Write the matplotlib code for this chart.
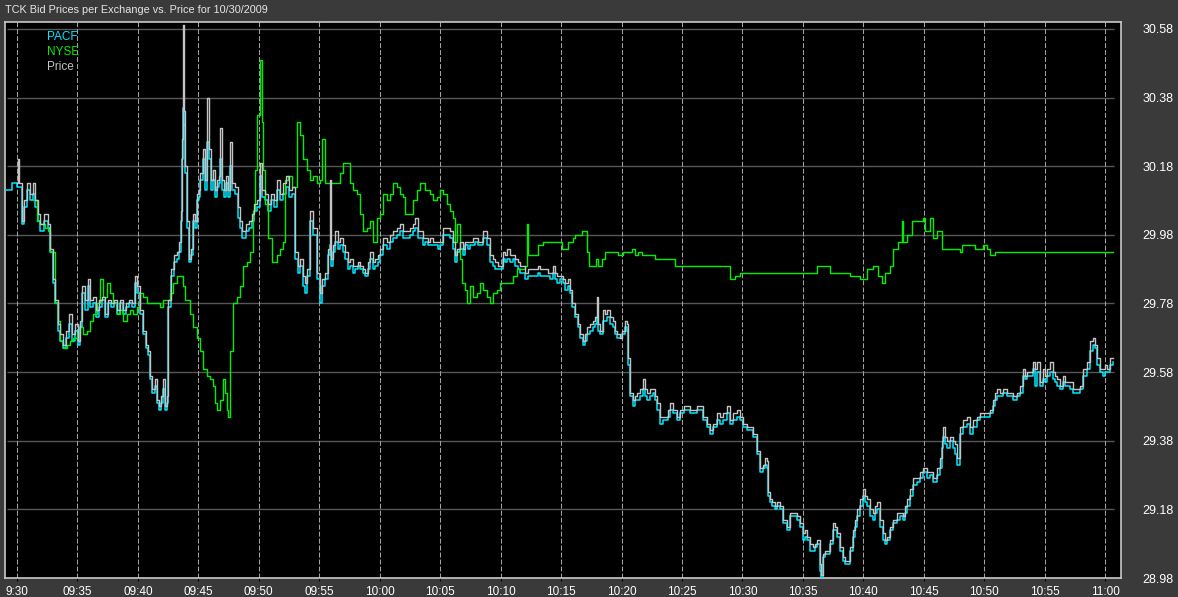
import matplotlib
matplotlib.use("Agg")
import matplotlib.pyplot as plt

# ---- data: minutes after 09:30 and prices ----
price_t = [0.00, 0.08, 0.17, 0.41, 0.58, 0.83, 1.08, 1.32, 1.49, 1.74, 1.90, 2.23, 2.56, 2.73, 2.98, 3.14, 3.39, 3.56, 3.80, 4.05,
           4.30, 4.55, 4.80, 5.05, 5.21, 5.38, 5.62, 5.87, 6.04, 6.29, 6.53, 6.78, 7.03, 7.28, 7.53, 7.77, 8.02, 8.27, 8.52, 8.77,
           9.02, 9.26, 9.51, 9.76, 9.93, 10.17, 10.42, 10.67, 10.83, 11.00, 11.17, 11.41, 11.58, 11.74, 11.91, 12.08, 12.24, 12.41, 12.49, 12.74,
           12.99, 13.23, 13.40, 13.56, 13.65, 13.73, 13.81, 13.89, 14.06, 14.23, 14.39, 14.56, 14.72, 14.89, 15.05, 15.14, 15.38, 15.55, 15.72, 15.88,
           16.05, 16.21, 16.38, 16.55, 16.71, 16.79, 16.96, 17.12, 17.29, 17.45, 17.62, 17.79, 18.03, 18.28, 18.45, 18.61, 18.78, 18.94, 19.19, 19.44,
           19.60, 19.85, 20.10, 20.26, 20.51, 20.76, 21.01, 21.26, 21.51, 21.75, 22.00, 22.25, 22.50, 22.75, 22.99, 23.24, 23.41, 23.66, 23.82, 23.99,
           24.24, 24.48, 24.81, 25.06, 25.23, 25.48, 25.72, 25.89, 25.97, 26.14, 26.30, 26.55, 26.72, 26.96, 27.13, 27.38, 27.55, 27.79, 27.96, 28.21,
           28.37, 28.62, 28.79, 29.03, 29.20, 29.45, 29.61, 29.86, 30.02, 30.27, 30.60, 30.85, 31.10, 31.43, 31.68, 31.93, 32.26, 32.51, 32.75, 32.92,
           33.17, 33.33, 33.58, 33.75, 34.00, 34.16, 34.41, 34.57, 34.82, 34.99, 35.24, 35.57, 35.82, 36.06, 36.23, 36.40, 36.64, 36.89, 37.06, 37.30,
           37.47, 37.72, 37.88, 38.13, 38.30, 38.55, 38.88, 39.12, 39.37, 39.54, 39.79, 39.95, 40.20, 40.36, 40.53, 40.78, 41.03, 41.19, 41.44, 41.61,
           41.85, 42.02, 42.27, 42.43, 42.68, 42.85, 43.09, 43.26, 43.51, 43.67, 43.92, 44.09, 44.34, 44.50, 44.67, 44.91, 45.16, 45.33, 45.57, 45.74,
           45.91, 46.15, 46.40, 46.57, 46.82, 46.98, 47.15, 47.40, 47.64, 47.81, 47.97, 48.06, 48.22, 48.47, 48.64, 48.80, 49.05, 49.30, 49.46, 49.63,
           49.88, 50.04, 50.29, 50.46, 50.54, 50.70, 50.95, 51.12, 51.28, 51.53, 51.78, 51.94, 52.11, 52.36, 52.60, 52.77, 52.94, 53.18, 53.43, 53.60,
           53.85, 54.01, 54.26, 54.59, 54.84, 55.17, 55.66, 56.24, 56.49, 56.74, 57.07, 57.32, 57.57, 57.90, 58.15, 58.39, 58.73, 58.97, 59.22, 59.55,
           59.80, 60.05, 60.38, 60.63, 60.88, 61.04, 61.21, 61.46, 61.70, 61.87, 62.04, 62.12, 62.28, 62.45, 62.70, 62.86, 63.11, 63.36, 63.69, 63.94,
           64.19, 64.52, 64.76, 65.01, 65.18, 65.34, 65.59, 65.84, 66.01, 66.17, 66.42, 66.50, 66.67, 66.83, 67.00, 67.24, 67.49, 67.66, 67.82, 68.07,
           68.32, 68.49, 68.65, 68.90, 69.15, 69.31, 69.48, 69.73, 69.97, 70.14, 70.31, 70.55, 70.80, 70.97, 71.13, 71.38, 71.63, 71.80, 71.96, 72.21,
           72.46, 72.79, 73.04, 73.28, 73.45, 73.62, 73.86, 74.11, 74.44, 74.69, 74.94, 75.27, 75.52, 75.77, 76.10, 76.35, 76.51, 76.59, 76.76, 76.93,
           77.17, 77.42, 77.59, 77.75, 78.00, 78.25, 78.58, 78.83, 79.07, 79.40, 79.65, 79.90, 80.23, 80.48, 80.73, 80.89, 81.06, 81.31, 81.55, 81.89,
           82.13, 82.38, 82.71, 82.96, 83.21, 83.37, 83.54, 83.79, 84.04, 84.20, 84.37, 84.62, 84.86, 85.03, 85.20, 85.44, 85.69, 85.86, 86.02, 86.27,
           86.52, 86.68, 87.10, 87.35, 87.68, 87.93, 88.17, 88.50, 88.75, 89.00, 89.17, 89.33, 89.58, 89.83, 90.00, 90.16, 90.41, 90.65]

price_v = [30.13, 30.20, 30.13, 30.02, 30.08, 30.13, 30.10, 30.13, 30.08, 30.04, 30.01, 30.04, 30.01, 29.94, 29.85, 29.79, 29.72, 29.69, 29.66, 29.70,
           29.75, 29.69, 29.72, 29.67, 29.73, 29.83, 29.79, 29.85, 29.79, 29.80, 29.76, 29.79, 29.80, 29.75, 29.79, 29.78, 29.79, 29.76, 29.79, 29.76,
           29.78, 29.79, 29.78, 29.86, 29.83, 29.76, 29.70, 29.66, 29.64, 29.57, 29.53, 29.56, 29.50, 29.48, 29.51, 29.56, 29.48, 29.51, 29.79, 29.88,
           29.92, 29.93, 29.96, 30.05, 30.26, 30.59, 30.34, 30.18, 30.02, 29.91, 29.94, 30.04, 30.02, 30.10, 30.11, 30.16, 30.23, 30.14, 30.38, 30.23,
           30.14, 30.17, 30.11, 30.14, 30.15, 30.29, 30.14, 30.11, 30.15, 30.11, 30.25, 30.13, 30.12, 30.06, 30.02, 29.99, 29.99, 30.01, 30.02, 30.04,
           30.07, 30.08, 30.19, 30.11, 30.10, 30.07, 30.10, 30.08, 30.14, 30.10, 30.13, 30.15, 30.11, 30.12, 29.93, 29.89, 29.91, 29.86, 29.84, 29.88,
           30.05, 30.00, 29.87, 29.81, 29.85, 29.87, 29.94, 30.14, 29.91, 29.95, 29.99, 29.96, 29.97, 29.95, 29.93, 29.90, 29.91, 29.89, 29.89, 29.90,
           29.89, 29.88, 29.87, 29.90, 29.93, 29.90, 29.91, 29.92, 29.94, 29.97, 29.96, 29.98, 29.99, 30.00, 30.01, 29.99, 29.99, 30.00, 30.01, 30.03,
           29.99, 29.99, 29.97, 29.97, 29.96, 29.97, 29.96, 29.96, 29.96, 29.96, 30.00, 30.00, 29.99, 29.96, 29.92, 29.94, 29.96, 29.94, 29.96, 29.96,
           29.96, 29.97, 29.97, 29.96, 29.96, 29.99, 29.97, 29.92, 29.91, 29.90, 29.89, 29.89, 29.93, 29.92, 29.94, 29.92, 29.92, 29.91, 29.90, 29.89,
           29.89, 29.87, 29.88, 29.88, 29.88, 29.88, 29.89, 29.88, 29.88, 29.88, 29.87, 29.87, 29.89, 29.87, 29.86, 29.86, 29.85, 29.84, 29.85, 29.82,
           29.78, 29.75, 29.72, 29.69, 29.67, 29.69, 29.71, 29.72, 29.73, 29.74, 29.80, 29.72, 29.70, 29.76, 29.75, 29.76, 29.74, 29.73, 29.70, 29.69,
           29.68, 29.70, 29.73, 29.72, 29.62, 29.52, 29.50, 29.51, 29.52, 29.53, 29.56, 29.53, 29.52, 29.53, 29.53, 29.51, 29.49, 29.45, 29.45, 29.45,
           29.47, 29.49, 29.47, 29.45, 29.47, 29.48, 29.47, 29.48, 29.48, 29.45, 29.43, 29.41, 29.43, 29.46, 29.45, 29.46, 29.48, 29.44, 29.46, 29.47,
           29.45, 29.43, 29.42, 29.42, 29.40, 29.40, 29.35, 29.30, 29.31, 29.33, 29.32, 29.23, 29.21, 29.20, 29.19, 29.20, 29.19, 29.15, 29.13, 29.17,
           29.17, 29.16, 29.14, 29.11, 29.12, 29.10, 29.08, 29.07, 29.08, 29.09, 29.02, 28.99, 29.05, 29.06, 29.06, 29.09, 29.14, 29.13, 29.11, 29.07,
           29.04, 29.03, 29.03, 29.07, 29.12, 29.15, 29.18, 29.21, 29.24, 29.22, 29.21, 29.18, 29.17, 29.19, 29.20, 29.15, 29.11, 29.09, 29.10, 29.13,
           29.15, 29.17, 29.17, 29.16, 29.19, 29.21, 29.24, 29.27, 29.27, 29.29, 29.30, 29.29, 29.29, 29.27, 29.30, 29.33, 29.38, 29.42, 29.39, 29.38,
           29.39, 29.38, 29.37, 29.33, 29.42, 29.44, 29.45, 29.42, 29.44, 29.45, 29.46, 29.46, 29.46, 29.47, 29.50, 29.52, 29.53, 29.52, 29.53, 29.52,
           29.52, 29.51, 29.52, 29.54, 29.59, 29.57, 29.58, 29.58, 29.61, 29.59, 29.61, 29.55, 29.59, 29.57, 29.59, 29.61, 29.58, 29.57, 29.56, 29.54,
           29.57, 29.55, 29.55, 29.53, 29.53, 29.54, 29.59, 29.61, 29.67, 29.68, 29.66, 29.62, 29.59, 29.59, 29.60, 29.59, 29.62, 29.62]

pacf_t_open = [-0.99, -0.41]
pacf_v_open = [30.11, 30.13]
pacf_v = [30.12, 30.12, 30.12, 30.01, 30.06, 30.11, 30.08, 30.10, 30.06, 30.02, 29.99, 30.02, 30.00, 29.93, 29.84, 29.78, 29.70, 29.67, 29.65, 29.68,
          29.72, 29.67, 29.70, 29.66, 29.71, 29.81, 29.76, 29.83, 29.77, 29.78, 29.74, 29.77, 29.79, 29.74, 29.78, 29.77, 29.78, 29.75, 29.78, 29.75,
          29.77, 29.78, 29.77, 29.84, 29.81, 29.75, 29.69, 29.65, 29.63, 29.56, 29.52, 29.54, 29.49, 29.47, 29.49, 29.53, 29.47, 29.49, 29.77, 29.86,
          29.90, 29.91, 29.93, 30.02, 30.20, 30.35, 30.30, 30.16, 30.00, 29.90, 29.92, 30.02, 30.00, 30.08, 30.09, 30.14, 30.20, 30.11, 30.25, 30.20,
          30.11, 30.14, 30.09, 30.12, 30.13, 30.20, 30.11, 30.09, 30.13, 30.09, 30.18, 30.11, 30.10, 30.03, 30.00, 29.97, 29.97, 29.99, 30.00, 30.02,
          30.05, 30.06, 30.15, 30.09, 30.08, 30.05, 30.08, 30.06, 30.11, 30.08, 30.10, 30.12, 30.09, 30.10, 29.91, 29.87, 29.89, 29.83, 29.81, 29.86,
          30.02, 29.98, 29.85, 29.78, 29.83, 29.85, 29.92, 29.95, 29.89, 29.93, 29.96, 29.94, 29.95, 29.93, 29.91, 29.88, 29.89, 29.87, 29.88, 29.89,
          29.88, 29.87, 29.86, 29.88, 29.91, 29.88, 29.89, 29.90, 29.92, 29.95, 29.94, 29.96, 29.97, 29.98, 29.99, 29.97, 29.97, 29.98, 29.99, 30.00,
          29.97, 29.97, 29.95, 29.96, 29.95, 29.95, 29.95, 29.95, 29.94, 29.95, 29.98, 29.98, 29.97, 29.94, 29.90, 29.93, 29.94, 29.92, 29.95, 29.94,
          29.95, 29.95, 29.96, 29.95, 29.95, 29.97, 29.95, 29.90, 29.89, 29.88, 29.88, 29.88, 29.91, 29.90, 29.91, 29.90, 29.91, 29.89, 29.88, 29.87,
          29.87, 29.85, 29.86, 29.86, 29.86, 29.86, 29.87, 29.86, 29.86, 29.86, 29.86, 29.85, 29.87, 29.85, 29.84, 29.85, 29.84, 29.82, 29.83, 29.81,
          29.77, 29.74, 29.71, 29.68, 29.66, 29.67, 29.69, 29.70, 29.71, 29.72, 29.74, 29.70, 29.69, 29.73, 29.73, 29.74, 29.72, 29.71, 29.69, 29.68,
          29.68, 29.69, 29.71, 29.70, 29.60, 29.51, 29.48, 29.50, 29.50, 29.51, 29.53, 29.51, 29.50, 29.51, 29.52, 29.50, 29.47, 29.43, 29.44, 29.44,
          29.45, 29.47, 29.46, 29.44, 29.46, 29.47, 29.46, 29.47, 29.47, 29.44, 29.42, 29.40, 29.42, 29.44, 29.43, 29.44, 29.46, 29.43, 29.44, 29.45,
          29.44, 29.42, 29.41, 29.41, 29.39, 29.39, 29.34, 29.29, 29.30, 29.31, 29.30, 29.22, 29.20, 29.19, 29.18, 29.19, 29.18, 29.14, 29.12, 29.16,
          29.16, 29.15, 29.13, 29.09, 29.10, 29.09, 29.06, 29.06, 29.07, 29.08, 29.00, 28.98, 29.04, 29.05, 29.05, 29.08, 29.12, 29.12, 29.10, 29.06,
          29.03, 29.02, 29.02, 29.06, 29.10, 29.13, 29.16, 29.19, 29.22, 29.20, 29.19, 29.16, 29.15, 29.17, 29.18, 29.13, 29.09, 29.08, 29.09, 29.12,
          29.14, 29.15, 29.16, 29.15, 29.17, 29.19, 29.22, 29.25, 29.26, 29.27, 29.29, 29.27, 29.28, 29.26, 29.28, 29.30, 29.36, 29.39, 29.37, 29.36,
          29.38, 29.36, 29.34, 29.31, 29.40, 29.42, 29.43, 29.40, 29.42, 29.44, 29.45, 29.45, 29.45, 29.46, 29.48, 29.50, 29.51, 29.51, 29.52, 29.51,
          29.51, 29.50, 29.51, 29.52, 29.57, 29.56, 29.57, 29.57, 29.59, 29.54, 29.58, 29.54, 29.56, 29.55, 29.57, 29.58, 29.56, 29.55, 29.54, 29.53,
          29.55, 29.54, 29.53, 29.52, 29.52, 29.53, 29.57, 29.59, 29.64, 29.66, 29.65, 29.60, 29.58, 29.57, 29.58, 29.58, 29.60, 29.61]

nyse_t = [1.32, 1.65, 1.90, 2.32, 2.56, 2.73, 3.14, 3.39, 3.56, 3.80, 4.14, 4.38, 4.63, 4.96, 5.21, 5.46, 5.79, 6.04, 6.29, 6.62,
          6.87, 7.11, 7.44, 7.69, 7.94, 8.27, 8.52, 8.77, 9.10, 9.35, 9.59, 9.93, 10.17, 10.42, 10.75, 11.00, 11.41, 11.83, 12.08, 12.41,
          12.66, 12.90, 13.23, 13.48, 13.73, 13.89, 14.06, 14.31, 14.56, 14.89, 15.14, 15.38, 15.72, 15.96, 16.21, 16.38, 16.55, 16.79, 17.04, 17.20,
          17.37, 17.45, 17.62, 17.87, 18.20, 18.45, 18.69, 19.02, 19.27, 19.52, 19.69, 19.85, 20.10, 20.26, 20.35, 20.51, 20.76, 21.09, 21.51, 21.75,
          22.00, 22.17, 22.41, 22.75, 23.16, 23.41, 23.66, 23.99, 24.24, 24.48, 24.81, 25.06, 25.23, 25.48, 26.30, 26.72, 26.96, 27.29, 27.55, 27.79,
          28.12, 28.37, 28.62, 28.95, 29.20, 29.45, 29.78, 30.02, 30.27, 30.60, 30.85, 31.10, 31.43, 31.68, 31.93, 32.09, 32.51, 32.75, 33.08, 33.33,
          33.75, 34.16, 34.41, 34.74, 34.99, 35.24, 35.57, 35.82, 36.06, 36.23, 36.40, 36.64, 36.81, 37.06, 37.22, 37.47, 37.72, 38.05, 38.30, 38.55,
          38.88, 39.12, 39.37, 39.71, 39.95, 41.03, 41.36, 42.02, 42.18, 42.27, 43.09, 43.51, 43.84, 45.08, 45.57, 45.99, 46.15, 46.73, 47.15, 47.31,
          47.89, 48.06, 48.39, 48.64, 49.71, 50.13, 50.87, 51.12, 51.36, 51.69, 52.77, 54.43, 58.97, 59.39, 59.80, 66.17, 67.24, 68.90, 69.73, 70.31,
          70.80, 71.22, 71.55, 71.80, 72.21, 72.46, 72.87, 73.20, 73.28, 73.62, 74.03, 74.28, 74.94, 75.10, 75.52, 75.77, 76.10, 76.51, 78.00, 78.17,
          79.24, 79.90, 80.23, 80.48, 80.89, 90.65]
nyse_v = [30.08, 30.02, 30.01, 30.00, 29.99, 29.93, 29.78, 29.73, 29.67, 29.65, 29.66, 29.67, 29.68, 29.69, 29.71, 29.69, 29.70, 29.73, 29.75, 29.78,
          29.85, 29.80, 29.84, 29.81, 29.78, 29.75, 29.76, 29.73, 29.75, 29.76, 29.75, 29.77, 29.81, 29.80, 29.78, 29.78, 29.78, 29.77, 29.79, 29.79,
          29.81, 29.84, 29.86, 29.86, 29.83, 29.79, 29.79, 29.75, 29.71, 29.68, 29.64, 29.59, 29.57, 29.56, 29.54, 29.49, 29.47, 29.50, 29.56, 29.52,
          29.47, 29.45, 29.64, 29.78, 29.80, 29.83, 29.89, 29.90, 29.93, 30.05, 30.17, 30.33, 30.49, 30.31, 30.17, 30.07, 29.97, 29.90, 29.92, 29.94,
          29.96, 30.14, 30.15, 30.12, 30.31, 30.27, 30.20, 30.17, 30.14, 30.15, 30.13, 30.14, 30.26, 30.13, 30.13, 30.16, 30.19, 30.19, 30.13, 30.11,
          30.10, 30.04, 29.99, 30.00, 30.02, 29.96, 30.03, 30.04, 30.10, 30.08, 30.10, 30.13, 30.12, 30.10, 30.09, 30.04, 30.04, 30.08, 30.11, 30.13,
          30.11, 30.10, 30.08, 30.09, 30.11, 30.10, 30.07, 30.05, 30.03, 29.96, 30.01, 29.91, 29.84, 29.82, 29.78, 29.83, 29.80, 29.81, 29.84, 29.82,
          29.80, 29.78, 29.81, 29.82, 29.84, 29.86, 29.88, 29.89, 30.01, 29.92, 29.95, 29.96, 29.96, 29.94, 29.96, 29.97, 29.98, 29.99, 29.93, 29.89,
          29.91, 29.89, 29.91, 29.93, 29.92, 29.93, 29.94, 29.92, 29.93, 29.92, 29.91, 29.89, 29.85, 29.86, 29.87, 29.89, 29.87, 29.86, 29.85, 29.88,
          29.89, 29.86, 29.84, 29.87, 29.89, 29.94, 29.96, 30.02, 29.96, 29.98, 30.02, 30.02, 30.03, 29.99, 30.03, 29.97, 29.99, 29.94, 29.93, 29.95,
          29.94, 29.95, 29.94, 29.92, 29.93, 29.93]

x_ticks = [0, 5, 10, 15, 20, 25, 30, 35, 40, 45, 50, 55, 60, 65, 70, 75, 80, 85, 90]
x_labels = ["9:30", "09:35", "09:40", "09:45", "09:50", "09:55", "10:00", "10:05", "10:10", "10:15",
            "10:20", "10:25", "10:30", "10:35", "10:40", "10:45", "10:50", "10:55", "11:00"]
y_ticks = [28.98, 29.18, 29.38, 29.58, 29.78, 29.98, 30.18, 30.38, 30.58]
title = "TCK Bid Prices per Exchange vs. Price for 10/30/2009"

# ---- style ----
BG = "#3a3a3a"
C_PACF = "#00e8ff"
C_NYSE = "#00ee00"
C_PRICE = "#c4c4c4"
FONT = "Liberation Sans"

W, H = 1178, 597
fig = plt.figure(figsize=(W / 100, H / 100), dpi=100, facecolor=BG)
L, R, T, B = 5, 1121, 22, 578
ax = fig.add_axes([L / W, 1 - B / H, (R - L) / W, (B - T) / H])
ax.set_facecolor("black")

xmin, xmax = -0.99, 91.31
ax.set_xlim(xmin, xmax)
ax.set_ylim(28.98, 30.60)

# grid
ax.hlines(y_ticks, -0.83, 90.73, colors="#575757", linewidth=1.0, zorder=1)
for xt in x_ticks:
    ax.axvline(xt, color="#a0a0a0", linewidth=0.75, linestyle=(0, (4.8, 1.9)), zorder=1)

# series
ax.plot(pacf_t_open + price_t, pacf_v_open + pacf_v, color=C_PACF, linewidth=1.1,
        drawstyle="steps-post", zorder=3)
ax.plot(nyse_t, nyse_v, color=C_NYSE, linewidth=1.0, drawstyle="steps-post", zorder=4)
ax.plot(price_t, price_v, color=C_PRICE, linewidth=1.0, drawstyle="steps-post", zorder=5)

# axes decoration
for s in ax.spines.values():
    s.set_color("#c8c8c8")
    s.set_linewidth(1.2)
ax.set_xticks(x_ticks)
ax.set_xticklabels(x_labels, fontfamily=FONT, fontsize=8.5, color="white")
ax.yaxis.tick_right()
ax.set_yticks(y_ticks)
ax.set_yticklabels([f"{v:.2f}" for v in y_ticks], fontfamily=FONT, fontsize=9, color="white")
ax.tick_params(axis="x", length=2, color="black", pad=4)
ax.tick_params(axis="y", length=0, pad=15.5)

# title and legend text
fig.text(5 / W, 1 - 10 / H, title, fontfamily=FONT, fontsize=7.8, color="#e6e6e6",
         ha="left", va="center")
for lbl, col, yy in [("PACF", C_PACF, 37), ("NYSE", C_NYSE, 52), ("Price", C_PRICE, 67)]:
    fig.text(47 / W, 1 - yy / H, lbl, fontfamily=FONT, fontsize=8.5, color=col,
             ha="left", va="center")

fig.savefig("out.png", dpi=100, facecolor=BG)
